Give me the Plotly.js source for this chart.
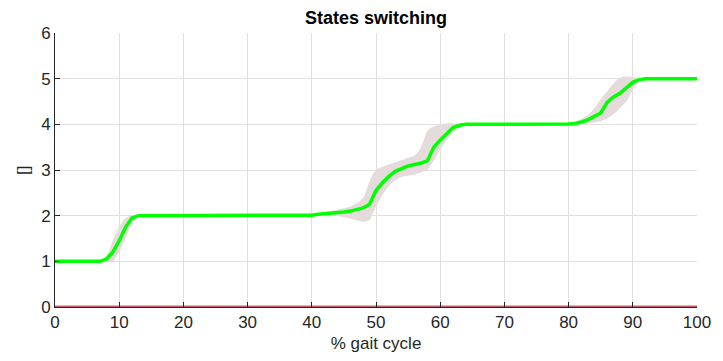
<!DOCTYPE html>
<html>
<head>
<meta charset="utf-8">
<script src="https://cdn.plot.ly/plotly-3.0.1.min.js"></script>
<style>html,body{margin:0;padding:0;background:#fff;}#chart{width:723px;height:361px;}</style>
</head>
<body>
<div id="chart"></div>
<script>
// % gait cycle samples
const cycle = [];
for (let i = 0; i <= 100; i++) cycle.push(i);

// mean state index over the gait cycle
const stateMean = [
  1.00,1.00,1.00,1.00,1.00,1.00,1.00,1.00,1.05,1.20,
  1.45,1.75,1.95,2.00,2.00,2.00,2.00,2.00,2.00,2.00,
  2.00,2.00,2.00,2.00,2.00,2.00,2.00,2.00,2.00,2.00,
  2.00,2.00,2.00,2.00,2.00,2.00,2.00,2.00,2.00,2.00,
  2.01,2.03,2.04,2.05,2.06,2.08,2.10,2.13,2.17,2.25,
  2.55,2.72,2.86,2.97,3.04,3.09,3.12,3.15,3.20,3.50,
  3.65,3.80,3.93,3.98,4.00,4.00,4.00,4.00,4.00,4.00,
  4.00,4.00,4.00,4.00,4.00,4.00,4.00,4.00,4.00,4.00,
  4.01,4.02,4.05,4.10,4.17,4.25,4.48,4.60,4.68,4.80,
  4.92,4.98,5.00,5.00,5.00,5.00,5.00,5.00,5.00,5.00,
  5.00
];

// upper edge of the spread band
const stateUpper = [
  1.00,1.00,1.00,1.00,1.00,1.00,1.00,1.00,1.10,1.45,
  1.75,1.95,2.00,2.00,2.00,2.00,2.00,2.00,2.00,2.00,
  2.00,2.00,2.00,2.00,2.00,2.00,2.00,2.00,2.00,2.00,
  2.00,2.00,2.00,2.00,2.00,2.00,2.00,2.00,2.00,2.01,
  2.02,2.05,2.08,2.10,2.13,2.16,2.20,2.27,2.40,2.75,
  3.00,3.07,3.12,3.17,3.22,3.27,3.32,3.50,3.85,3.95,
  4.00,4.02,4.02,4.01,4.00,4.00,4.00,4.00,4.00,4.00,
  4.00,4.00,4.00,4.00,4.00,4.00,4.00,4.00,4.00,4.00,
  4.00,4.05,4.12,4.20,4.35,4.55,4.72,4.90,5.02,5.05,
  5.03,5.01,5.00,5.00,5.00,5.00,5.00,5.00,5.00,5.00,
  5.00
];

// lower edge of the spread band
const stateLower = [
  1.00,1.00,1.00,1.00,1.00,1.00,1.00,1.00,1.00,0.97,
  1.20,1.50,1.85,1.98,2.00,2.00,2.00,2.00,2.00,2.00,
  2.00,2.00,2.00,2.00,2.00,2.00,2.00,2.00,2.00,2.00,
  2.00,2.00,2.00,2.00,2.00,2.00,2.00,2.00,2.00,2.00,
  1.99,2.00,2.00,2.00,1.99,1.97,1.94,1.90,1.86,1.90,
  2.20,2.45,2.65,2.78,2.85,2.88,2.90,2.95,3.00,3.20,
  3.45,3.65,3.82,3.92,3.97,4.00,4.00,4.00,4.00,4.00,
  4.00,4.00,4.00,4.00,4.00,4.00,4.00,4.00,4.00,4.00,
  4.00,4.00,4.01,4.02,4.04,4.07,4.13,4.22,4.35,4.50,
  4.75,4.95,5.00,5.00,5.00,5.00,5.00,5.00,5.00,5.00,
  5.00
];

// reference trace along zero
const zeroLine = cycle.map(() => 0);

const traces = [
  {x: cycle, y: stateLower, mode: 'lines', line: {width: 0, color: 'rgba(0,0,0,0)'},
   hoverinfo: 'skip', showlegend: false},
  {x: cycle, y: stateUpper, mode: 'lines', fill: 'tonexty', fillcolor: 'rgb(229,219,219)',
   line: {width: 0, color: 'rgba(0,0,0,0)', shape: 'spline'}, showlegend: false},
  {x: cycle, y: zeroLine, mode: 'lines', line: {color: 'rgb(222,150,160)', width: 3.5}, showlegend: false, cliponaxis: false},
  {x: cycle, y: zeroLine, mode: 'lines', line: {color: 'rgb(190,75,88)', width: 1.5}, showlegend: false, cliponaxis: false},
  {x: cycle, y: stateMean, mode: 'lines', line: {color: '#00ff00', width: 3.5}, showlegend: false}
];

const fontFam = 'Liberation Sans, Arial, sans-serif';
const axisFont = {family: fontFam, size: 17, color: '#262626'};

const layout = {
  width: 723, height: 361,
  margin: {l: 55, r: 26, t: 33, b: 54},
  paper_bgcolor: '#fff', plot_bgcolor: '#fff',
  title: {text: '<b>States switching</b>', x: 0.52, xanchor: 'center', y: 0.952, yanchor: 'middle',
          font: {family: fontFam, size: 18, color: '#000'}},
  xaxis: {
    range: [0, 100], tickvals: [0,10,20,30,40,50,60,70,80,90,100],
    ticks: 'inside', ticklen: 5, tickcolor: '#262626', tickwidth: 1,
    showgrid: true, gridcolor: '#e0e0e0', gridwidth: 1,
    showline: true, linecolor: '#262626', linewidth: 1, zeroline: false,
    tickfont: axisFont,
    title: {text: '% gait cycle', font: axisFont, standoff: 5}
  },
  yaxis: {
    range: [0, 6], tickvals: [0,1,2,3,4,5,6],
    ticks: 'inside', ticklen: 5, tickcolor: '#262626', tickwidth: 1,
    showgrid: true, gridcolor: '#e0e0e0', gridwidth: 1,
    showline: true, linecolor: '#262626', linewidth: 1, zeroline: false,
    tickfont: axisFont
  },
  annotations: [{
    text: '[]', textangle: -90, showarrow: false,
    xref: 'paper', yref: 'paper', x: -0.05, y: 0.5, xanchor: 'center', yanchor: 'middle',
    font: {family: fontFam, size: 17, color: '#262626'}
  }]
};

Plotly.newPlot('chart', traces, layout, {displayModeBar: false, staticPlot: true});
</script>
</body>
</html>
